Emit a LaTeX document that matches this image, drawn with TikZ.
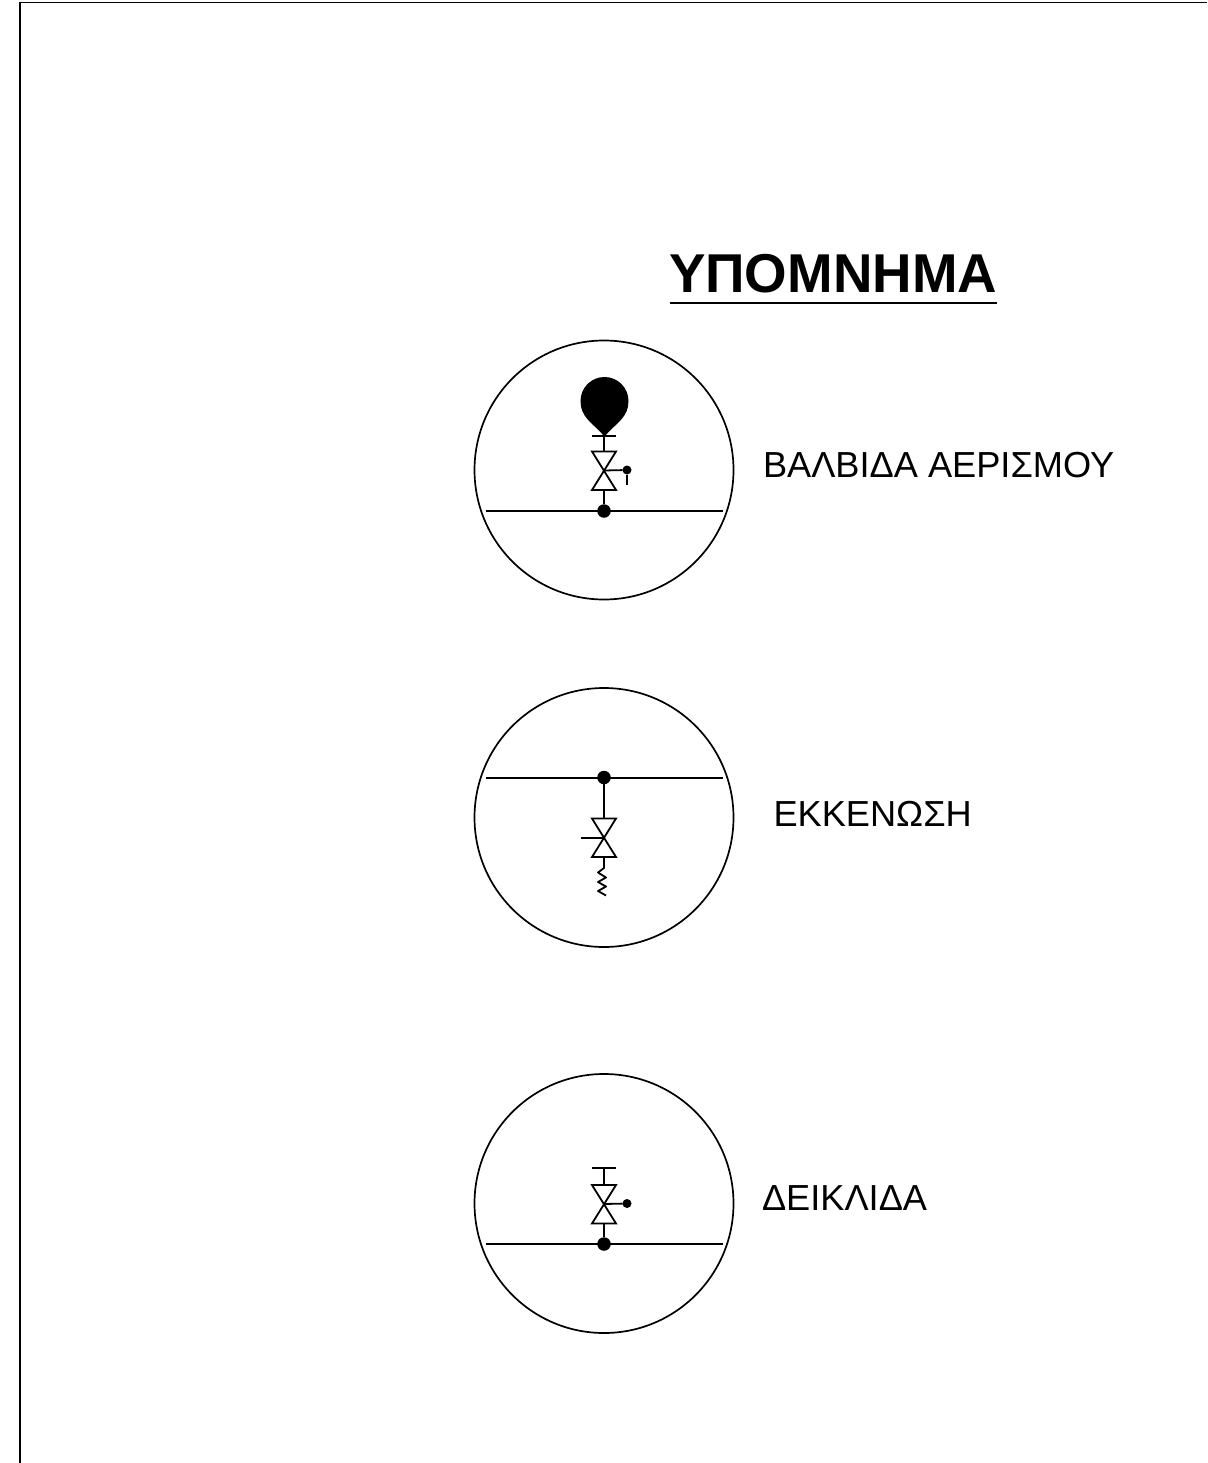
\documentclass[tikz,border=0pt]{standalone}
\usepackage{fontspec}
\setmainfont{Liberation Sans}
\tikzset{
  x=1pt,y=-1pt,
  line/.style={draw=black,line width=1.8pt,line cap=butt,line join=miter},
  ring/.style={circle,draw=black,line width=1.7pt,minimum size=259pt,inner sep=0pt,outer sep=0pt},
  bigdot/.style={circle,fill=black,minimum size=13.5pt,inner sep=0pt,outer sep=0pt},
  smalldot/.style={circle,fill=black,minimum size=9pt,inner sep=0pt,outer sep=0pt},
  balloon/.style={circle,fill=black,minimum size=48pt,inner sep=0pt,outer sep=0pt},
  legendtext/.style={inner sep=0pt,outer sep=0pt,anchor=base west,font=\fontsize{36.2}{40}\selectfont},
  titletext/.style={inner sep=0pt,outer sep=0pt,anchor=base west,font=\fontsize{54.7}{58}\selectfont\bfseries}
}
% #1 centre x, #2 centre y
\newcommand{\valvebody}[2]{%
  \draw[line] (#1-12,#2-19) -- (#1+12,#2-19) -- (#1-12,#2+19.5) -- (#1+12,#2+19.5) -- cycle;}
\begin{document}
\begin{tikzpicture}
\useasboundingbox (0,0) rectangle (1207,1463);
% frame
\coordinate (fa) at (20,1463);
\coordinate (fb) at (20,2.5);
\coordinate (fc) at (1207,2.5);
\draw[draw=black,line width=1.1pt] (fa) -- (fb) -- (fc);
% title
\node[titletext] (title) at (669,292) {ΥΠΟΜΝΗΜΑ};
\coordinate (ula) at (669.5,303);
\coordinate (ulb) at (996.5,303);
\draw[line] (ula) -- (ulb);

% --- air valve
\node[ring] (c1) at (604,470) {};
\coordinate (p1a) at (486,511);
\coordinate (p1b) at (723,511);
\draw[line] (p1a) -- (p1b);
\node[bigdot] (j1) at (604,511) {};
\coordinate (v1) at (604,470.5);
\valvebody{604}{470.5}
\draw[line] (j1) -- (604,490);
\coordinate (bar1) at (604,436);
\draw[line] (592,436) -- (616,436);
\draw[line] (bar1) -- (604,451.5);
\node[balloon] (b1) at (604.5,401) {};
\fill[black] (604.5,437) .. controls (598,427) and (583,420) .. (581,406) -- (628,406) .. controls (626,420) and (611,427) .. (604.5,437) -- cycle;
\node[smalldot] (h1) at (627,470) {};
\draw[line] (v1) -- (h1);
\coordinate (h1e) at (627,485);
\draw[line] (h1) -- (h1e);
\node[legendtext] (t1) at (763,477) {ΒΑΛΒΙΔΑ ΑΕΡΙΣΜΟΥ};

% --- drain
\node[ring] (c2) at (604,817.5) {};
\coordinate (p2a) at (486,778);
\coordinate (p2b) at (723,778);
\draw[line] (p2a) -- (p2b);
\node[bigdot] (j2) at (604,777.5) {};
\coordinate (v2) at (604,838);
\draw[line] (j2) -- (604,818.5);
\valvebody{604}{837.5}
\coordinate (h2) at (581,838);
\draw[line] (h2) -- (v2);
\draw[line,line join=round] (604,857) -- (604,868) -- (598,872.5) -- (606,877.5) -- (598,882) -- (606,886.5) -- (598,891) -- (606,895.5);
\node[legendtext] (t2) at (773.5,826) {ΕΚΚΕΝΩΣΗ};

% --- stopcock
\node[ring] (c3) at (604,1203.5) {};
\coordinate (p3a) at (486,1244);
\coordinate (p3b) at (723,1244);
\draw[line] (p3a) -- (p3b);
\node[bigdot] (j3) at (604,1244) {};
\coordinate (v3) at (604,1204);
\valvebody{604}{1204}
\draw[line] (j3) -- (604,1223.5);
\coordinate (bar3) at (604,1168);
\draw[line] (592,1168) -- (616,1168);
\draw[line] (bar3) -- (604,1185);
\node[smalldot] (h3) at (627,1203.5) {};
\draw[line] (v3) -- (h3);
\node[legendtext] (t3) at (762,1210) {ΔΕΙΚΛΙΔΑ};
\end{tikzpicture}
\end{document}
